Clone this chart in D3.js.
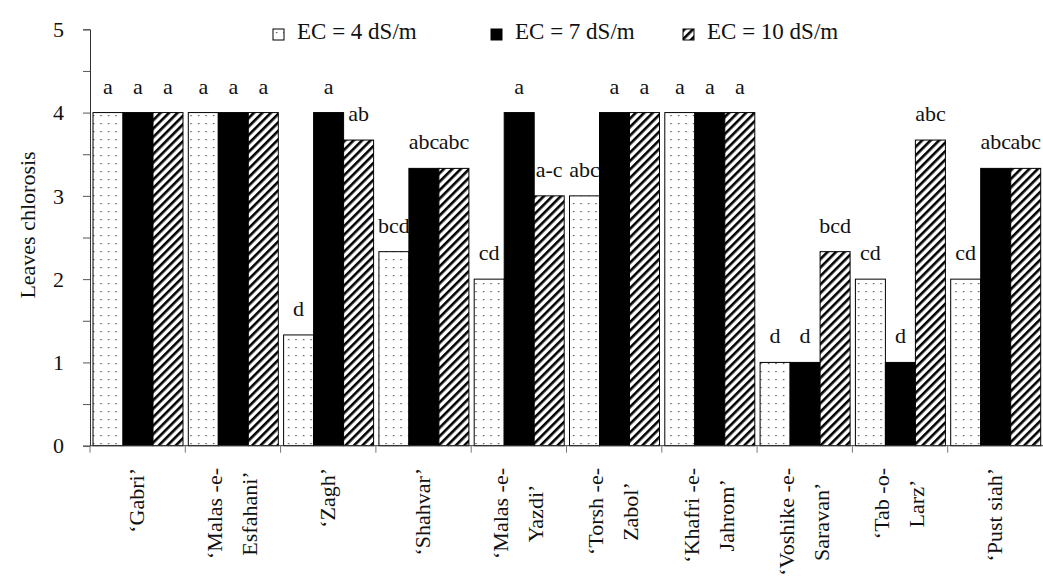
<!DOCTYPE html>
<html lang="en">
<head>
    <meta charset="UTF-8">
    <title>Leaves chlorosis</title>
    <script src="https://d3js.org/d3.v7.min.js"></script>
    <style>
        body { margin: 0; background: #fff; }
    </style>
</head>
<body>
<div id="chart"></div>
<script>
    // cultivars, drawn as one or two rotated lines each
    const labelLines = [
        ["‘Gabri’"], ["‘Malas -e-", "Esfahani’"], ["‘Zagh’"], ["‘Shahvar’"],
        ["‘Malas -e-", "Yazdi’"], ["‘Torsh -e-", "Zabol’"], ["‘Khafri -e-", "Jahrom’"],
        ["‘Voshike -e-", "Saravan’"], ["‘Tab -o-", "Larz’"], ["‘Pust siah’"]
    ];
    const categories = labelLines.map(l => l.join(" "));
    const seriesNames = ["EC = 4 dS/m", "EC = 7 dS/m", "EC = 10 dS/m"];

    const ec4  = [4, 4, 1.33, 2.33, 2, 3, 4, 1, 2, 2];
    const ec7  = [4, 4, 4, 3.33, 4, 4, 4, 1, 1, 3.33];
    const ec10 = [4, 4, 3.67, 3.33, 3, 4, 4, 2.33, 3.67, 3.33];

    const letters4  = ["a", "a", "d", "bcd", "cd", "abc", "a", "d", "cd", "cd"];
    const letters7  = ["a", "a", "a", "abc", "a", "a", "a", "d", "d", "abc"];
    const letters10 = ["a", "a", "ab", "abc", "a-c", "a", "a", "bcd", "abc", "abc"];

    const yTicks = [0, 1, 2, 3, 4, 5];

    const width = 1043, height = 580;
    const svg = d3.select("#chart").append("svg")
        .attr("width", width).attr("height", height)
        .attr("font-family", "'Liberation Serif', 'DejaVu Serif', serif")
        .attr("fill", "#111");

    // fill patterns
    const defs = svg.append("defs");
    const dots = defs.append("pattern").attr("id", "dots")
        .attr("patternUnits", "userSpaceOnUse").attr("width", 7.5).attr("height", 8);
    dots.append("rect").attr("width", 7.5).attr("height", 8).attr("fill", "#fff");
    dots.append("rect").attr("x", 3).attr("y", 3).attr("width", 1.2).attr("height", 1.2).attr("fill", "#333");

    const hatch = defs.append("pattern").attr("id", "hatch")
        .attr("patternUnits", "userSpaceOnUse").attr("width", 6).attr("height", 6)
        .attr("patternTransform", "rotate(45)");
    hatch.append("rect").attr("width", 6).attr("height", 6).attr("fill", "#fff");
    hatch.append("rect").attr("x", 0).attr("y", 0).attr("width", 2.6).attr("height", 6).attr("fill", "#000");

    const fills = ["url(#dots)", "#000", "url(#hatch)"];

    const x = d3.scaleBand().domain(categories).range([90, 1043]).paddingInner(0);
    const xSub = d3.scaleBand().domain(d3.range(3)).range([3, x.bandwidth() - 2.3]);
    const y = d3.scaleLinear().domain([0, 5]).range([445.7, 29.3]);

    const series = [ec4, ec7, ec10];
    const letters = [letters4, letters7, letters10];

    const rows = [];
    categories.forEach((c, i) => {
        series.forEach((s, k) => rows.push({ cat: c, k: k, v: s[i], t: letters[k][i] }));
    });

    // bars
    svg.append("g").selectAll("rect")
        .data(rows).join("rect")
        .attr("x", d => x(d.cat) + xSub(d.k))
        .attr("y", d => y(d.v))
        .attr("width", xSub.bandwidth())
        .attr("height", d => y(0) - y(d.v))
        .attr("fill", d => fills[d.k])
        .attr("stroke", "#000")
        .attr("stroke-width", 1);

    // significance letters
    svg.append("g").selectAll("text")
        .data(rows).join("text")
        .attr("x", d => x(d.cat) + xSub(d.k) + xSub.bandwidth() / 2)
        .attr("y", d => y(d.v) - 19)
        .attr("text-anchor", "middle")
        .attr("font-size", 22)
        .text(d => d.t);

    // y axis with half-unit ticks
    const yAxis = svg.append("g").attr("transform", "translate(90,0)")
        .call(d3.axisLeft(y).tickValues(d3.range(0, 5.01, 0.5)).tickSize(7).tickFormat(""));
    yAxis.select(".domain").attr("stroke", "#333");
    yAxis.selectAll(".tick line").attr("stroke", "#555");

    svg.append("g").selectAll("text")
        .data(yTicks).join("text")
        .attr("x", 64)
        .attr("y", d => y(d))
        .attr("dy", "0.35em")
        .attr("text-anchor", "end")
        .attr("font-size", 22)
        .text(d => d);

    // x axis: ticks at category boundaries
    const xg = svg.append("g");
    xg.append("line").attr("x1", 90).attr("x2", 1043)
        .attr("y1", y(0)).attr("y2", y(0)).attr("stroke", "#333");
    xg.selectAll("line.tk")
        .data(categories).join("line").attr("class", "tk")
        .attr("x1", d => x(d)).attr("x2", d => x(d))
        .attr("y1", y(0)).attr("y2", y(0) + 7)
        .attr("stroke", "#777");

    // category labels (rotated, lines centred on one another)
    const labTop = 468;
    const lab = svg.append("g").selectAll("g")
        .data(labelLines).join("g");
    lab.each(function(lines, i) {
        const g = d3.select(this);
        const cx = x(categories[i]) + x.bandwidth() / 2 - 1;
        const texts = g.selectAll("text").data(lines).join("text")
            .attr("font-size", 22)
            .attr("text-anchor", "middle")
            .attr("dy", "0.35em")
            .text(d => d);
        let longest = 0;
        texts.each(function() { longest = Math.max(longest, this.getComputedTextLength()); });
        const cy = labTop + longest / 2;
        texts.attr("transform", (d, j) => {
            const off = lines.length === 1 ? 0 : (j === 0 ? -17.5 : 17.5);
            return `translate(${cx + off},${cy}) rotate(-90)`;
        });
    });

    // y title
    svg.append("text")
        .attr("transform", "translate(27,225) rotate(-90)")
        .attr("text-anchor", "middle")
        .attr("dy", "0.35em")
        .attr("font-size", 22)
        .text("Leaves chlorosis");

    // legend
    const legX = [273, 491, 683];
    const leg = svg.append("g").selectAll("g")
        .data(seriesNames).join("g")
        .attr("transform", (d, k) => `translate(${legX[k]},29)`);
    leg.append("rect").attr("width", 11).attr("height", 11)
        .attr("fill", (d, k) => fills[k]).attr("stroke", "#000");
    leg.append("text").attr("x", 24).attr("y", 10)
        .attr("font-size", 23)
        .text(d => d);
</script>
</body>
</html>
